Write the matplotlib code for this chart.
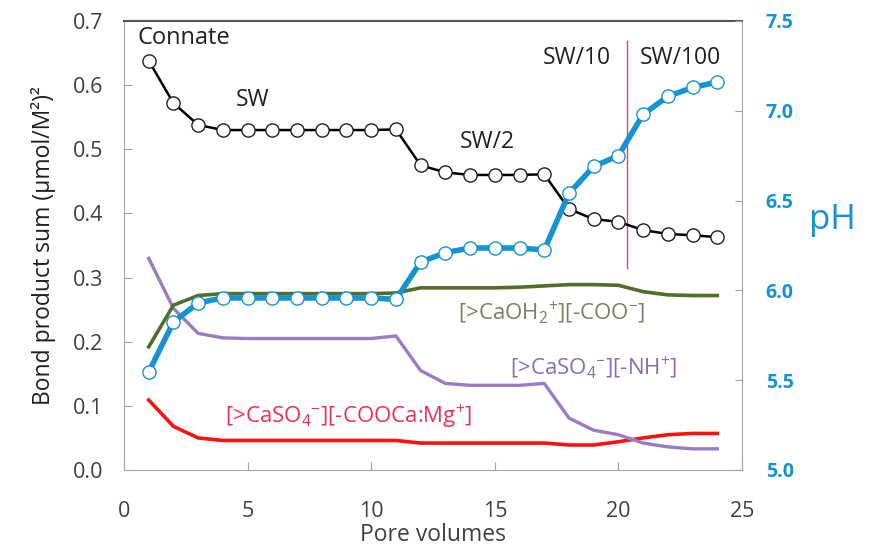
"""
Bond product sums and effluent pH vs. pore volumes injected
"""
import matplotlib
matplotlib.use('Agg')
from matplotlib import pyplot as plt

plt.rcParams['font.family'] = ['Open Sans', 'DejaVu Sans']
plt.rcParams['mathtext.fontset'] = 'custom'
plt.rcParams['mathtext.rm'] = 'Open Sans'
plt.rcParams['mathtext.it'] = 'Open Sans'
plt.rcParams['mathtext.default'] = 'regular'

# pore volumes (one point per PV)
pv = list(range(1, 25))

# total bond product sum (left axis)
bond_sum = [0.638, 0.572, 0.538, 0.530, 0.530, 0.530, 0.530, 0.530, 0.530, 0.530,
            0.531, 0.475, 0.464, 0.460, 0.460, 0.460, 0.461, 0.407, 0.391, 0.387,
            0.374, 0.368, 0.366, 0.363]

# individual bond products (left axis)
caoh2_coo = [0.192, 0.257, 0.272, 0.275, 0.275, 0.275, 0.275, 0.275, 0.275, 0.275,
             0.276, 0.284, 0.284, 0.284, 0.284, 0.285, 0.287, 0.289, 0.289, 0.288,
             0.278, 0.273, 0.272, 0.272]
caso4_nh = [0.330, 0.252, 0.213, 0.206, 0.205, 0.205, 0.205, 0.205, 0.205, 0.205,
            0.209, 0.155, 0.135, 0.132, 0.132, 0.132, 0.135, 0.081, 0.062, 0.055,
            0.042, 0.036, 0.033, 0.033]
caso4_coocamg = [0.109, 0.068, 0.050, 0.046, 0.046, 0.046, 0.046, 0.046, 0.046, 0.046,
                 0.046, 0.042, 0.042, 0.042, 0.042, 0.042, 0.042, 0.039, 0.039, 0.044,
                 0.050, 0.055, 0.057, 0.057]

# effluent pH (right axis)
ph = [5.546, 5.824, 5.930, 5.958, 5.958, 5.958, 5.958, 5.958, 5.958, 5.958,
      5.950, 6.158, 6.210, 6.236, 6.236, 6.236, 6.225, 6.540, 6.690, 6.750,
      6.980, 7.080, 7.130, 7.160]

# brine switch SW/10 -> SW/100
switch_pv = 20.36

blue = '#1593d3'
grey_txt = '#404040'

fig = plt.figure(figsize=(8.69, 5.5), dpi=100)
ax = fig.add_axes([124 / 869, 80 / 550, 618 / 869, 449 / 550])

ax.plot(pv, caso4_coocamg, color='#ff1010', lw=2.6, zorder=2)
ax.plot(pv, caso4_nh, color='#9a7cc4', lw=2.4, zorder=2)
ax.plot(pv, caoh2_coo, color='#50702a', lw=2.6, zorder=2)
ax.plot([switch_pv, switch_pv], [0.315, 0.669], color='#f04060', lw=1.0, zorder=3)
ax.plot(pv, bond_sum, color='black', lw=1.8, marker='o', ms=9.5,
        mfc='white', mec='#202020', mew=1.0, zorder=4)

ax.set_xlim(0, 25)
ax.set_ylim(0, 0.7)
ax.set_xticks([0, 5, 10, 15, 20, 25])
ax.set_yticks([0.0, 0.1, 0.2, 0.3, 0.4, 0.5, 0.6, 0.7])
ax.set_yticklabels(['%.1f' % v for v in ax.get_yticks()])
ax.tick_params(direction='in', length=6, width=0.8, color='#a0a0a0',
               labelsize=15.5, labelcolor=grey_txt)
ax.tick_params(axis='x', pad=22)
ax.tick_params(axis='y', pad=15)
ax.set_xlabel('Pore volumes', fontsize=16.5, color=grey_txt, labelpad=1)
ax.set_ylabel('Bond product sum (µmol/M²)²', fontsize=16.5, color='#202020', labelpad=12)

for side in ['left', 'bottom', 'right']:
    ax.spines[side].set_color('#a8a8a8')
ax.spines['top'].set_color('#555555')
ax.spines['top'].set_linewidth(1.5)

ax2 = ax.twinx()
ax2.plot(pv, ph, color=blue, lw=4, marker='o', ms=9.5,
         mfc='white', mec=blue, mew=1.0, zorder=5)
ax2.set_ylim(5.0, 7.5)
ax2.set_yticks([5.0, 5.5, 6.0, 6.5, 7.0, 7.5])
ax2.set_yticklabels(['%.1f' % v for v in ax2.get_yticks()], fontweight='bold')
ax2.tick_params(direction='in', length=5, width=0.8, color='#a0a0a0',
                labelsize=14, labelcolor=blue)
ax2.tick_params(axis='y', pad=17)
for side in ['left', 'bottom', 'right', 'top']:
    ax2.spines[side].set_visible(False)
fig.text(832 / 869, 1 - 220 / 550, 'pH', fontsize=25, color=blue,
         ha='center', va='center')

# annotations
txt = dict(fontsize=16.5, color='#202020', ha='center', va='center')
ax.text(0.55, 0.673, 'Connate', ha='left', va='center', fontsize=17, color='#202020')
ax.text(5.2, 0.577, 'SW', **txt)
ax.text(14.7, 0.511, 'SW/2', **txt)
ax.text(18.3, 0.642, 'SW/10', **txt)
ax.text(22.5, 0.642, 'SW/100', **txt)
ax.text(17.3, 0.245, '[>CaOH$_2$$^{+}$][-COO$^{-}$]', fontsize=16,
        color='#7d7d5f', ha='center', va='center')
ax.text(19.0, 0.159, '[>CaSO$_4$$^{-}$][-NH$^{+}$]', fontsize=16,
        color='#8a6cb8', ha='center', va='center')
ax.text(9.1, 0.083, '[>CaSO$_4$$^{-}$][-COOCa:Mg$^{+}$]', fontsize=16,
        color='#ee2f50', ha='center', va='center')

plt.savefig('out.png', dpi=100)
